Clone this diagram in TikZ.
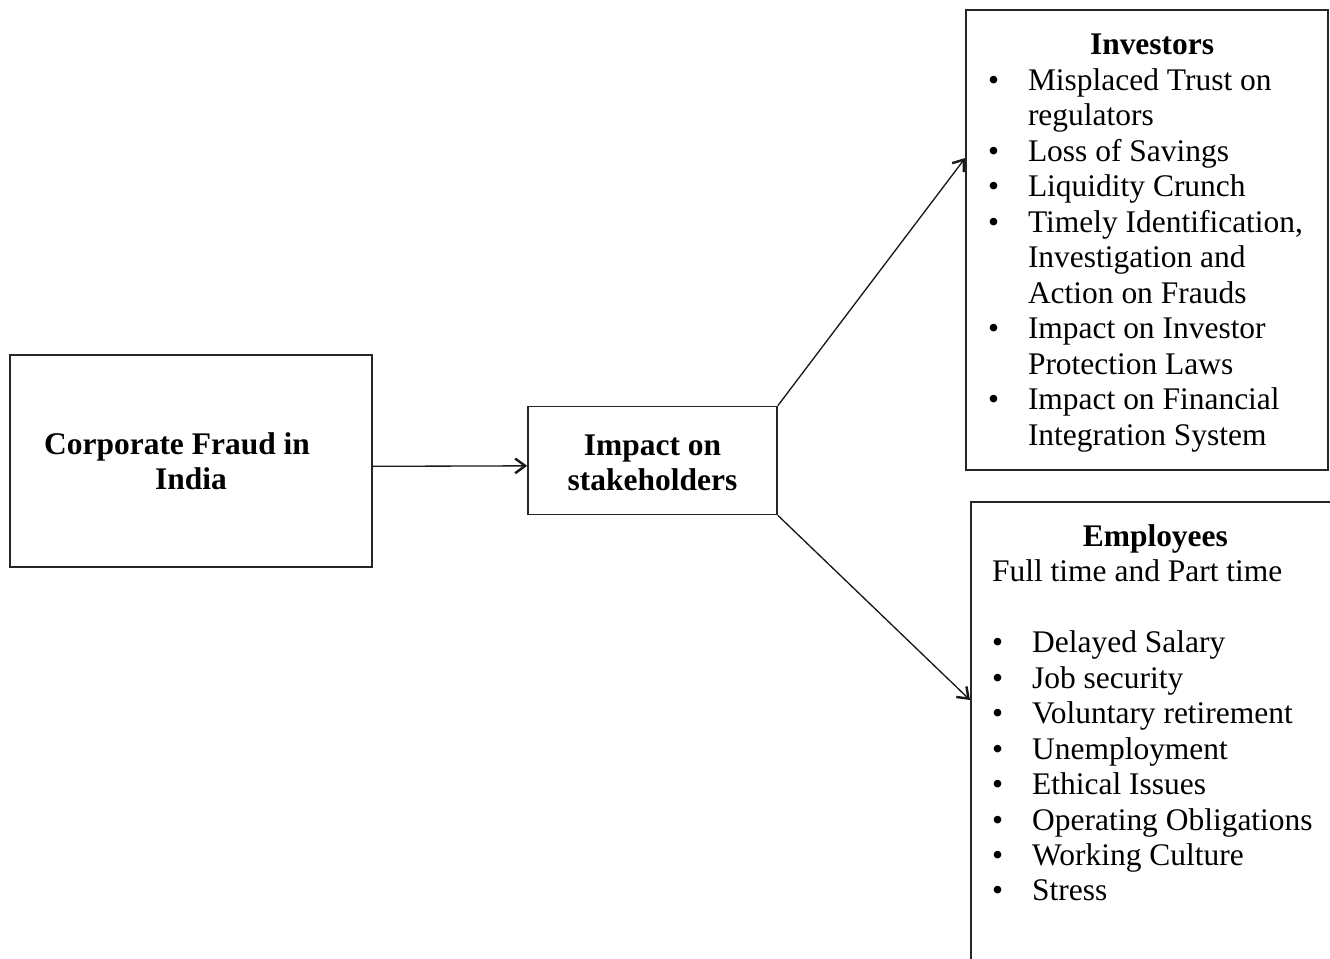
\documentclass[tikz,border=0pt]{standalone}
\usepackage{fontspec}
\setmainfont{Liberation Serif}
\usetikzlibrary{calc,arrows.meta}
\newcommand{\bul}{\makebox[30pt][l]{\textbullet}}
\newcommand{\cont}{\hspace*{30pt}}

\begin{document}
\begin{tikzpicture}[x=0.75pt, y=-0.75pt,
  font=\fontsize{23.6}{26.6}\selectfont,
  box/.style={draw=black!85, line width=1.2pt, inner sep=0pt},
  title/.style={font=\fontsize{23.6}{26.6}\selectfont\bfseries, align=center},
  link/.style={line width=1pt, black!90, -{Straight Barb[length=7.5pt,width=11pt,line width=1.8pt]}}]
\useasboundingbox (0,0) rectangle (1330,959);
\clip (0,0) rectangle (1330,959);

% Source
\node[box, title, minimum width=271.5pt, minimum height=159pt] (fraud) at (191,461) {Corporate Fraud in\hspace*{21pt}\\India};

% Middle
\node[box, title, minimum width=186.75pt, minimum height=81pt] (impact) at (652.5,460.5) {\rule{0pt}{19pt}Impact on\\stakeholders};

% Investors
\node[box, inner xsep=16.5pt, inner ysep=18.25pt] (inv) at (1147,240) {%
\begin{minipage}[t][308.5pt][t]{238.5pt}
\hspace*{76.5pt}\textbf{Investors}\\
\bul Misplaced Trust on\\
\cont regulators\\
\bul Loss of Savings\\
\bul Liquidity Crunch\\
\bul Timely Identification,\\
\cont Investigation and\\
\cont Action on Frauds\\
\bul Impact on Investor\\
\cont Protection Laws\\
\bul Impact on Financial\\
\cont Integration System
\end{minipage}};

% Employees (runs off the page)
\node[box, anchor=north west, inner xsep=16pt, inner ysep=17pt] (emp) at (970,501) {%
\begin{minipage}[t][326pt][t]{264pt}
\hspace*{68pt}\textbf{Employees}\\
Full time and Part time\\[\baselineskip]
\bul Delayed Salary\\
\bul Job security\\
\bul Voluntary retirement\\
\bul Unemployment\\
\bul Ethical Issues\\
\bul Operating Obligations\\
\bul Working Culture\\
\bul Stress
\end{minipage}};

% Arrows
\draw[link] ([yshift=-4pt]fraud.east) -- ([yshift=-4pt]impact.west);
\draw[link] (impact.north east) -- ($(inv.west)+(0,-82)$);
\draw[link] (impact.south east) -- ($(emp.north west)+(0,199)$);
\end{tikzpicture}
\end{document}
